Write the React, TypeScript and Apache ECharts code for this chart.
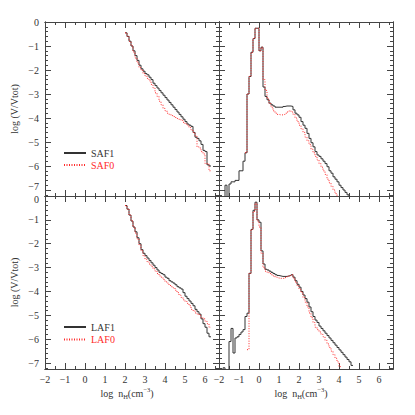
import React, { useEffect, useRef } from 'react';
import * as echarts from 'echarts';

// ---------- data ----------
const BIN = 0.1;
const X_MIN = -2;
const X_MAX = 6.7;
const Y_DEPTH = 7.25; // axis runs from 0 down to −7.25 (plotted as positive depth, inverted)
const X_TICK_LABELS = [-2, -1, 0, 1, 2, 3, 4, 5, 6];
const Y_TICK_LABELS = [0, -1, -2, -3, -4, -5, -6, -7];

// left panels: cumulative distributions, bins starting at 2.0
const CUM_START = 2.0;
const SAF1_CUM = [-0.45, -0.6, -0.8, -1.0, -1.2, -1.4, -1.6, -1.8, -1.95, -2.05, -2.15, -2.2, -2.3, -2.4, -2.55, -2.65, -2.75, -2.85, -2.95, -3.05, -3.15, -3.25, -3.35, -3.45, -3.55, -3.65, -3.75, -3.85, -3.95, -4.05, -4.15, -4.25, -4.3, -4.35, -4.6, -4.8, -4.85, -4.95, -5.1, -5.35, -5.4, -5.95, -6.0];
const SAF0_CUM = [-0.45, -0.6, -0.8, -1.0, -1.25, -1.5, -1.7, -1.9, -2.0, -2.15, -2.25, -2.35, -2.45, -2.6, -2.75, -2.95, -3.1, -3.3, -3.45, -3.6, -3.7, -3.8, -3.85, -3.9, -3.94, -3.98, -4.02, -4.06, -4.1, -4.18, -4.25, -4.3, -4.4, -4.5, -4.6, -4.75, -5.2, -5.25, -5.4, -5.5, -5.9, -5.9, -6.2];
const LAF1_CUM = [-0.4, -0.55, -0.8, -1.05, -1.3, -1.5, -1.75, -2.0, -2.25, -2.4, -2.5, -2.6, -2.7, -2.8, -2.9, -3.0, -3.1, -3.2, -3.25, -3.3, -3.4, -3.45, -3.55, -3.6, -3.65, -3.72, -3.8, -3.85, -3.9, -4.05, -4.2, -4.3, -4.4, -4.5, -4.6, -4.75, -4.85, -4.95, -5.15, -5.35, -5.5, -5.75, -5.9];
const LAF0_CUM = [-0.4, -0.55, -0.8, -1.05, -1.3, -1.55, -1.8, -2.05, -2.3, -2.5, -2.65, -2.75, -2.85, -2.95, -3.05, -3.15, -3.25, -3.35, -3.4, -3.5, -3.6, -3.65, -3.75, -3.8, -3.85, -3.95, -4.05, -4.15, -4.25, -4.35, -4.42, -4.5, -4.6, -4.75, -4.8, -4.9, -4.95, -5.0, -5.1, -5.15, -5.25, -5.35, -5.5];

// right panels: differential distributions (−8 = empty bin, below the axis)
const SAF1_PDF_START = -1.8;
const SAF1_PDF = [-8, -6.8, -8, -6.75, -6.66, -6.66, -6.6, -6.6, -6.2, -6.2, -5.8, -5.45, -3.0, -2.27, -1.26, -0.69, -0.26, -0.26, -1.2, -1.05, -2.71, -3.1, -3.24, -3.38, -3.45, -3.5, -3.55, -3.55, -3.55, -3.55, -3.52, -3.5, -3.5, -3.5, -3.52, -3.66, -3.8, -3.87, -3.97, -4.15, -4.3, -4.43, -4.64, -4.85, -5.03, -5.2, -5.4, -5.54, -5.6, -5.7, -5.8, -5.9, -6.03, -6.2, -6.3, -6.45, -6.55, -6.66, -6.8, -6.9, -7.0, -7.1, -7.2, -7.3];
const SAF0_PDF_START = -0.7;
const SAF0_PDF = [-5.45, -3.0, -2.27, -1.26, -0.69, -0.26, -0.26, -1.2, -1.05, -2.4, -2.85, -3.2, -3.4, -3.55, -3.7, -3.8, -3.85, -3.87, -3.87, -3.85, -3.8, -3.75, -3.7, -3.75, -3.85, -4.0, -4.15, -4.3, -4.45, -4.6, -4.8, -4.95, -5.1, -5.3, -5.45, -5.6, -5.75, -5.9, -6.05, -6.2, -6.35, -6.55, -6.7, -6.85, -7.0, -7.15, -7.3];
const LAF1_PDF_START = -1.9;
const LAF1_PDF = [-8, -7.2, -8, -8, -6.1, -5.55, -6.58, -5.95, -5.9, -5.8, -5.7, -5.6, -5.05, -4.91, -3.24, -1.4, -0.6, -0.26, -1.0, -1.1, -2.3, -2.85, -3.07, -3.1, -3.15, -3.2, -3.25, -3.3, -3.33, -3.35, -3.37, -3.37, -3.37, -3.35, -3.33, -3.3, -3.4, -3.55, -3.7, -3.82, -4.0, -4.15, -4.3, -4.45, -4.65, -4.85, -5.05, -5.2, -5.3, -5.45, -5.55, -5.65, -5.75, -5.85, -5.95, -6.05, -6.15, -6.25, -6.35, -6.45, -6.55, -6.65, -6.75, -6.85, -6.95, -7.1];
const LAF0_PDF_START = -0.6;
const LAF0_PDF = [-6.44, -3.24, -1.4, -0.65, -0.3, -1.05, -1.3, -2.4, -3.0, -3.15, -3.2, -3.25, -3.3, -3.35, -3.4, -3.42, -3.45, -3.45, -3.45, -3.42, -3.38, -3.33, -3.3, -3.45, -3.6, -3.75, -3.9, -4.05, -4.25, -4.45, -4.65, -4.9, -5.1, -5.3, -5.5, -5.6, -5.7, -5.8, -5.9, -6.05, -6.2, -6.35, -6.5, -6.65, -6.8, -6.95, -7.15];

// ---------- style ----------
const AX = '#444';
const BLACK = '#333';
const RED = '#ff2a2a';
const FONT = 'Liberation Serif';

const r = (v: number) => Math.round(v * 1000) / 1000;
function steps(start: number, vals: number[]) {
  const pts = vals.map((v, i) => [r(start + i * BIN), -v]);
  pts.push([r(start + vals.length * BIN), -vals[vals.length - 1]]);
  return pts;
}

const isInt = (v: number) => Math.abs(v - Math.round(v)) < 1e-6;
const minus = (n: number) => (n < 0 ? '\u2212' + Math.abs(n) : String(n));
const fmtX = (v: number) => (isInt(v) && X_TICK_LABELS.includes(Math.round(v)) ? minus(Math.round(v)) : '');
const yLabel = (v: number) => {
  if (!isInt(v)) return null;
  const n = -Math.round(v);
  return Y_TICK_LABELS.includes(n) ? n : null;
};

const X_NAME = '{a|log  n}{s|H}{a|(cm}{p|\u22123}{a|)}';
const NAME_RICH = {
  a: { fontFamily: FONT, fontSize: 10, color: '#333', lineHeight: 14 },
  s: { fontFamily: FONT, fontSize: 6.5, color: '#333', lineHeight: 8, verticalAlign: 'bottom' },
  p: { fontFamily: FONT, fontSize: 6.5, color: '#333', lineHeight: 8, verticalAlign: 'top' },
};

// row: 0 = top, 1 = bottom
const GRIDS = [
  { left: 45, top: 22, width: 174, height: 174, xl: false, yl: true, row: 0 },
  { left: 219, top: 22, width: 174, height: 174, xl: false, yl: false, row: 0 },
  { left: 45, top: 196, width: 174, height: 173, xl: true, yl: true, row: 1 },
  { left: 219, top: 196, width: 174, height: 173, xl: true, yl: false, row: 1 },
];

const labelStyle = { color: '#333', fontFamily: FONT, fontSize: 10 };

const xAxes: any[] = [];
const yAxes: any[] = [];
GRIDS.forEach((g, gi) => {
  for (const pos of ['bottom', 'top']) {
    for (const major of [true, false]) {
      const main = major && pos === 'bottom';
      xAxes.push({
        type: 'value', gridIndex: gi, position: pos, min: X_MIN, max: X_MAX, interval: major ? 1 : 0.5,
        axisLine: { show: true, onZero: false, lineStyle: { color: AX, width: 1 } },
        axisTick: { show: true, inside: true, length: major ? 6 : 3, lineStyle: { color: AX, width: 1 } },
        axisLabel: { show: g.xl && main, formatter: fmtX, ...labelStyle, margin: 5 },
        splitLine: { show: false },
        name: g.xl && main ? X_NAME : '',
        nameLocation: 'middle', nameGap: 17,
        nameTextStyle: { rich: NAME_RICH, padding: [0, 10, 0, 0] },
      });
    }
  }
  // the end label that meets the other panel (−7 on top row, 0 on bottom row) is nudged away
  const edgeVal = g.row === 0 ? -7 : 0;
  for (const pos of ['left', 'right']) {
    for (const major of [true, false]) {
      const isLeft = pos === 'left';
      let formatter: (v: number) => string;
      let extra: any = {};
      if (major) {
        formatter = (v: number) => {
          const n = yLabel(v);
          return n === null || n === edgeVal ? '' : minus(n);
        };
      } else {
        formatter = (v: number) => {
          const n = yLabel(v);
          return n === edgeVal ? minus(n as number) : '';
        };
        extra = { verticalAlign: g.row === 0 ? 'bottom' : 'top', lineHeight: 7 };
      }
      yAxes.push({
        type: 'value', gridIndex: gi, position: pos, min: 0, max: Y_DEPTH, interval: major ? 1 : 0.2, inverse: true,
        axisLine: { show: true, onZero: false, lineStyle: { color: AX, width: 1 } },
        axisTick: { show: true, inside: true, length: major ? 6 : 3, lineStyle: { color: AX, width: 1 } },
        axisLabel: { show: g.yl && isLeft, formatter, ...labelStyle, margin: 6, ...extra },
        splitLine: { show: false },
        name: g.yl && isLeft && major ? 'log (V/Vtot)' : '',
        nameLocation: 'middle', nameGap: 26, nameRotate: 90,
        nameTextStyle: { fontFamily: FONT, fontSize: 10, color: '#333' },
      });
    }
  }
});

function line(name: string, gi: number, data: number[][], red: boolean) {
  return {
    type: 'line', name, xAxisIndex: gi * 4, yAxisIndex: gi * 4, data, step: 'end', symbol: 'none',
    clip: true, silent: true,
    lineStyle: red ? { color: RED, width: 1, type: [1, 1.5] } : { color: BLACK, width: 1 },
    itemStyle: { color: red ? RED : BLACK },
  };
}

const series = [
  line('SAF1', 0, steps(CUM_START, SAF1_CUM), false),
  line('SAF0', 0, steps(CUM_START, SAF0_CUM), true),
  line('SAF1', 1, steps(SAF1_PDF_START, SAF1_PDF), false),
  line('SAF0', 1, steps(SAF0_PDF_START, SAF0_PDF), true),
  line('LAF1', 2, steps(CUM_START, LAF1_CUM), false),
  line('LAF0', 2, steps(CUM_START, LAF0_CUM), true),
  line('LAF1', 3, steps(LAF1_PDF_START, LAF1_PDF), false),
  line('LAF0', 3, steps(LAF0_PDF_START, LAF0_PDF), true),
];

const legendBase = {
  orient: 'vertical', left: 63, itemWidth: 22, itemHeight: 10, itemGap: 2, padding: 0,
  selectedMode: false, textStyle: { fontFamily: FONT, fontSize: 10 },
  itemStyle: { opacity: 0 },
};

const option: any = {
  animation: false,
  backgroundColor: '#fff',
  grid: GRIDS.map((g) => ({ left: g.left, top: g.top, width: g.width, height: g.height, containLabel: false })),
  xAxis: xAxes,
  yAxis: yAxes,
  legend: [
    { ...legendBase, top: 148, data: [{ name: 'SAF1', textStyle: { color: BLACK } }, { name: 'SAF0', textStyle: { color: RED } }] },
    { ...legendBase, top: 322, itemGap: 2.5, data: [{ name: 'LAF1', textStyle: { color: BLACK } }, { name: 'LAF0', textStyle: { color: RED } }] },
  ],
  series,
};

export default function App() {
  const ref = useRef<HTMLDivElement>(null);
  useEffect(() => {
    const chart = echarts.init(ref.current!, undefined, { renderer: 'svg' });
    chart.setOption(option);
    return () => chart.dispose();
  }, []);
  return <div ref={ref} style={{ position: 'fixed', left: 0, top: 0, width: 415, height: 415, background: '#fff' }} />;
}
